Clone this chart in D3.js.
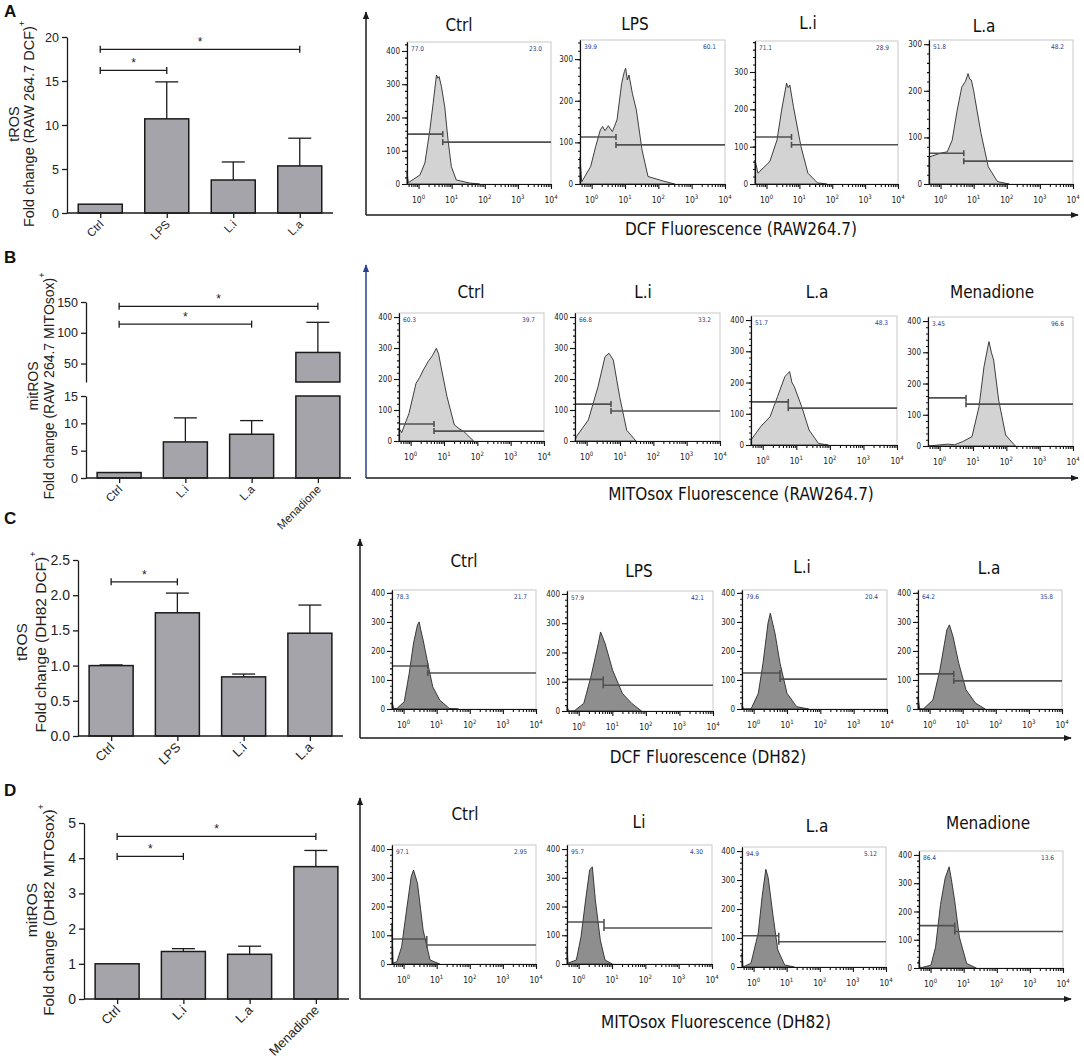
<!DOCTYPE html>
<html>
<head>
<meta charset="utf-8">
<script src="https://cdn.jsdelivr.net/npm/d3@7"></script>
<style>body{margin:0;background:#fff}</style>
</head>
<body>
<script>
// ---------- bar chart values ----------
const catsA = ["Ctrl", "LPS", "L.i", "L.a"];
const meanA = [1.0, 10.7, 3.75, 5.35];
const errA  = [1.0, 14.9, 5.8, 8.5];
const sigA  = [[0, 1, 16.2], [0, 3, 18.6]];

const catsB = ["Ctrl", "L.i", "L.a", "Menadione"];
const meanB = [1.0, 6.6, 8.0, 68];
const errB  = [1.0, 11.0, 10.5, 117];
const sigB  = [[0, 2, 114], [0, 3, 143]];

const catsC = ["Ctrl", "LPS", "L.i", "L.a"];
const meanC = [1.0, 1.75, 0.84, 1.46];
const errC  = [1.01, 2.03, 0.88, 1.86];
const sigC  = [[0, 1, 2.19]];

const catsD = ["Ctrl", "L.i", "L.a", "Menadione"];
const meanD = [1.0, 1.35, 1.27, 3.76];
const errD  = [1.0, 1.43, 1.5, 4.22];
const sigD  = [[0, 1, 4.05], [0, 3, 4.62]];

// ---------- histogram values: [log10 fluorescence, count] ----------
const hA_ctrl = [[-0.35,0],[-0.35,37],[-0.31,4],[0.04,27],[0.19,63],[0.34,162],[0.44,243],[0.54,328],[0.58,318],[0.62,323],[0.69,293],[0.79,232],[0.89,132],[0.99,52],[1.14,12],[1.54,3],[1.84,0]];
const hA_lps  = [[-0.35,0],[-0.35,65],[-0.3,5],[-0.03,42],[0.12,90],[0.26,130],[0.33,138],[0.4,128],[0.5,140],[0.62,126],[0.76,154],[0.9,242],[0.98,270],[1.02,278],[1.07,250],[1.12,262],[1.22,218],[1.34,178],[1.51,82],[1.69,18],[2.2,6],[2.49,0]];
const hA_li   = [[-0.35,0],[-0.35,64],[-0.26,29],[0.1,60],[0.32,118],[0.46,198],[0.61,270],[0.66,258],[0.71,265],[0.82,207],[1.05,100],[1.26,29],[1.55,3],[1.83,0]];
const hA_la   = [[-0.35,0],[-0.35,58],[-0.09,64],[0.05,67],[0.2,69],[0.35,94],[0.5,158],[0.64,208],[0.75,220],[0.83,237],[0.88,225],[0.93,223],[1.0,200],[1.03,187],[1.22,109],[1.44,37],[1.72,5],[2.07,0]];

const hB_ctrl = [[-0.35,0],[-0.35,41],[-0.27,27],[-0.05,89],[0.16,186],[0.27,205],[0.38,229],[0.52,256],[0.65,275],[0.77,299],[0.84,280],[0.91,240],[1.09,143],[1.31,52],[1.45,40],[1.6,30],[1.89,0]];
const hB_li   = [[-0.35,0],[-0.31,14],[0.05,68],[0.34,175],[0.55,272],[0.67,283],[0.72,275],[0.8,261],[0.99,143],[1.2,35],[1.48,0]];
const hB_la   = [[-0.35,0],[-0.35,16],[-0.06,59],[0.22,91],[0.44,155],[0.66,219],[0.74,228],[0.8,235],[0.87,200],[0.94,187],[1.16,123],[1.38,48],[1.66,5],[1.95,0]];
const hB_men  = [[-0.35,0],[0.25,6],[0.45,4],[0.69,14],[0.97,30],[1.18,126],[1.33,254],[1.45,320],[1.48,334],[1.55,300],[1.62,275],[1.77,147],[1.98,35],[2.27,0]];

const hC_ctrl = [[-0.35,0],[-0.35,25],[-0.3,2],[-0.2,2],[0.02,25],[0.17,123],[0.3,227],[0.42,290],[0.47,300],[0.52,272],[0.59,238],[0.73,158],[0.88,77],[1.09,31],[1.38,2],[1.66,0]];
const hC_lps  = [[-0.35,0],[-0.35,15],[-0.3,0],[-0.14,0],[0.15,26],[0.36,116],[0.58,229],[0.65,270],[0.72,250],[0.79,229],[1.01,139],[1.3,60],[1.58,26],[1.87,0]];
const hC_li   = [[-0.35,0],[-0.35,14],[-0.3,0],[-0.08,0],[0.14,54],[0.28,158],[0.43,296],[0.5,330],[0.56,300],[0.64,261],[0.79,158],[1.0,54],[1.29,8],[1.65,0]];
const hC_la   = [[-0.35,0],[-0.35,42],[-0.3,0],[-0.19,0],[0.1,31],[0.31,134],[0.52,272],[0.6,290],[0.71,249],[0.88,158],[1.1,66],[1.39,20],[1.68,0]];

const hD_ctrl = [[-0.35,0],[-0.35,142],[-0.32,3],[-0.2,8],[-0.06,60],[0.09,188],[0.23,304],[0.3,327],[0.42,281],[0.59,118],[0.8,14],[1.09,0]];
const hD_li   = [[-0.35,0],[-0.35,60],[-0.32,3],[-0.07,14],[0.07,95],[0.22,234],[0.33,327],[0.41,338],[0.5,223],[0.65,83],[0.79,14],[1.01,0]];
const hD_la   = [[-0.35,0],[-0.35,48],[-0.32,0],[-0.08,13],[0.14,117],[0.26,245],[0.37,337],[0.44,309],[0.59,175],[0.73,59],[0.94,7],[1.23,0]];
const hD_men  = [[-0.35,0],[-0.35,28],[-0.32,0],[0.01,10],[0.15,74],[0.3,225],[0.44,318],[0.56,358],[0.63,312],[0.73,236],[0.87,109],[1.09,16],[1.38,0]];

// titles, gate percentages, gate marker (log10) and gate heights (counts), count axis max
const titA = ["Ctrl", "LPS", "L.i", "L.a"];
const pctLA = ["77.0", "39.9", "71.1", "51.8"], pctRA = ["23.0", "60.1", "28.9", "48.2"];
const gxA = [0.73, 0.73, 0.76, 0.70], glA = [150, 113, 126, 66], grA = [126, 94, 105, 49];
const ymA = [427, 346, 383, 309];

const titB = ["Ctrl", "L.i", "L.a", "Menadione"];
const pctLB = ["60.3", "66.8", "51.7", "3.45"], pctRB = ["39.7", "33.2", "48.3", "96.6"];
const gxB = [0.70, 0.73, 0.76, 0.79], glB = [55, 119, 138, 154], grB = [32, 97, 118, 134];
const ymB = [413, 413, 413, 413];

const titC = ["Ctrl", "LPS", "L.i", "L.a"];
const pctLC = ["78.3", "57.9", "79.6", "64.2"], pctRC = ["21.7", "42.1", "20.4", "35.8"];
const gxC = [0.73, 0.73, 0.79, 0.73], glC = [148, 108, 124, 121], grC = [124, 88, 103, 97];
const ymC = [410, 410, 410, 410];

const titD = ["Ctrl", "Li", "L.a", "Menadione"];
const pctLD = ["97.1", "95.7", "94.9", "86.4"], pctRD = ["2.95", "4.30", "5.12", "13.6"];
const gxD = [0.70, 0.76, 0.76, 0.73], glD = [87, 146, 108, 150], grD = [66, 125, 87, 129];
const ymD = [414, 414, 414, 414];

const decadeTicks = [0, 1, 2, 3, 4];

// ---------- layout ----------
const boxA = [[407,42,551,184],[580,40,725,184],[755,41,898,184],[929,40,1073,184]];
const boxB = [[399,313,544,441],[575,313,720,441],[751,316,897,445],[928,317,1073,446]];
const boxC = [[392,590,536,709],[567,591,713,711],[742,590,887,709],[918,590,1062,709]];
const boxD = [[392,845,536,964],[567,845,712,964],[742,847,886,967],[919,851,1063,968]];
const titPosA = [[459,31],[635,30],[808,29],[984,32]];
const titPosB = [[471,298],[643,298],[817,298],[992,298]];
const titPosC = [[464,567],[639,577],[802,573],[989,574]];
const titPosD = [[465,820],[639,828],[817,832],[988,829]];

const W = 1084, H = 1062;
const INK = "#1b1b1b", BAR = "#a5a4aa";
const SANS = "'Liberation Sans', Arial, sans-serif";
const NARROW = "'Liberation Sans Narrow', 'Arial Narrow', 'DejaVu Sans Condensed', sans-serif";

const svg = d3.select("body").append("svg")
    .attr("width", W).attr("height", H)
    .attr("xmlns", "http://www.w3.org/2000/svg");
svg.append("rect").attr("width", W).attr("height", H).attr("fill", "#fff");

const defs = svg.append("defs");
[["arrK", INK], ["arrB", "#27408f"]].forEach(([id, c]) => {
  defs.append("marker").attr("id", id).attr("viewBox", "0 0 10 10")
    .attr("refX", 9).attr("refY", 5).attr("markerWidth", 8).attr("markerHeight", 8)
    .attr("markerUnits", "userSpaceOnUse").attr("orient", "auto")
    .append("path").attr("d", "M0,1L10,5L0,9Z").attr("fill", c);
});

function styleAxis(sel, fs, font) {
  sel.selectAll("path,line").attr("stroke", INK).attr("stroke-width", 1.3);
  sel.selectAll("text").attr("font-family", font).attr("font-size", fs).attr("fill", "#222");
}

// ---------- bar panels ----------
function barPanel(o) {
  const g = svg.append("g");
  const x = d3.scalePoint().domain(o.cats).range([o.x0, o.x1]).padding(0.5);
  const bw = 44;
  const y = d3.scaleLinear().domain(o.yDom).range(o.yRng);
  const yh = o.hiDom ? d3.scaleLinear().domain(o.hiDom).range(o.hiRng) : null;
  const lowMax = o.yDom[1];
  const base = y(0);

  const ax = g.append("g").attr("transform", `translate(${o.x0},0)`)
    .call(d3.axisLeft(y).tickValues(o.yTicks).tickSize(5).tickSizeOuter(0).tickFormat(o.fmt));
  styleAxis(ax, o.tickFs, SANS);
  if (yh) {
    const ax2 = g.append("g").attr("transform", `translate(${o.x0},0)`)
      .call(d3.axisLeft(yh).tickValues(o.hiTicks).tickSize(5).tickSizeOuter(0).tickFormat(o.fmt));
    styleAxis(ax2, o.tickFs, SANS);
  }

  // bars (split across a broken axis when needed)
  o.means.forEach((v, i) => {
    const cx = x(o.cats[i]);
    const segs = [];
    if (yh && v > lowMax) {
      segs.push([y(lowMax), base]);
      segs.push([yh(v), yh(o.hiDom[0])]);
    } else segs.push([y(v), base]);
    segs.forEach(([t, b]) => g.append("rect")
      .attr("x", cx - bw / 2).attr("y", t).attr("width", bw).attr("height", b - t)
      .attr("fill", BAR).attr("stroke", INK).attr("stroke-width", 1.5));
    const e = o.errs[i];
    if (e > v) {
      const sy = yh && v > lowMax ? yh : y;
      g.append("line").attr("x1", cx).attr("x2", cx).attr("y1", sy(v)).attr("y2", sy(e))
        .attr("stroke", INK).attr("stroke-width", 1.3);
      g.append("line").attr("x1", cx - 11.5).attr("x2", cx + 11.5).attr("y1", sy(e)).attr("y2", sy(e))
        .attr("stroke", INK).attr("stroke-width", 1.3);
    }
  });

  // x axis + rotated labels
  const xa = g.append("g").attr("transform", `translate(0,${base})`)
    .call(d3.axisBottom(x).tickSize(5).tickSizeOuter(0).tickFormat(() => ""));
  xa.select(".domain").attr("d", `M${o.x0},0H${o.x1}`);
  styleAxis(xa, 11, SANS);
  g.selectAll("text.cat").data(o.cats).join("text")
    .attr("transform", d => `translate(${x(d) + 4},${base + 12}) rotate(-45)`)
    .attr("text-anchor", "end").attr("font-family", SANS).attr("font-size", o.catFs).attr("fill", "#222")
    .text(d => d);

  // significance brackets
  const sy = yh || y;
  o.sig.forEach(([a, b, v]) => {
    const xa1 = x(o.cats[a]), xb = x(o.cats[b]), yy = sy(v);
    const p = g.append("g").attr("stroke", INK).attr("stroke-width", 1.3);
    p.append("line").attr("x1", xa1).attr("x2", xb).attr("y1", yy).attr("y2", yy);
    p.append("line").attr("x1", xa1).attr("x2", xa1).attr("y1", yy - 3.5).attr("y2", yy + 3.5);
    p.append("line").attr("x1", xb).attr("x2", xb).attr("y1", yy - 3.5).attr("y2", yy + 3.5);
    g.append("text").attr("x", (xa1 + xb) / 2).attr("y", yy - 3).attr("text-anchor", "middle")
      .attr("font-family", SANS).attr("font-size", 12).attr("fill", "#222").text("*");
  });

  // y labels
  const cy = o.labelY;
  g.append("text").attr("transform", `translate(${o.lx1},${cy}) rotate(-90)`)
    .attr("text-anchor", "middle").attr("dominant-baseline", "central")
    .attr("font-family", SANS).attr("font-size", o.labFs).attr("fill", "#222").text(o.l1);
  const t2 = g.append("text").attr("transform", `translate(${o.lx2},${cy}) rotate(-90)`)
    .attr("text-anchor", "middle").attr("dominant-baseline", "central")
    .attr("font-family", SANS).attr("font-size", o.labFs).attr("fill", "#222");
  t2.append("tspan").text(o.l2);
  t2.append("tspan").attr("font-size", 9).attr("dy", -7).text("+");

  g.append("text").attr("x", 4).attr("y", o.letterY).attr("font-family", SANS)
    .attr("font-weight", "bold").attr("font-size", 17).attr("fill", "#111").text(o.letter);
}

const f0 = d3.format("d"), f1 = d3.format(".1f");
barPanel({ cats: catsA, means: meanA, errs: errA, sig: sigA, x0: 67, x1: 333,
  yDom: [0, 20], yRng: [213, 37], yTicks: [0, 5, 10, 15, 20], fmt: f0, tickFs: 12.5, catFs: 11.5, labFs: 14.5,
  l1: "tROS", l2: "Fold change (RAW 264.7 DCF)", lx1: 14, lx2: 29, labelY: 124, letter: "A", letterY: 17 });
barPanel({ cats: catsB, means: meanB, errs: errB, sig: sigB, x0: 86, x1: 351,
  yDom: [0, 15], yRng: [478, 396], yTicks: [0, 5, 10, 15], fmt: f0, tickFs: 12.5, catFs: 11.5, labFs: 14,
  hiDom: [20, 150], hiRng: [382, 302], hiTicks: [50, 100, 150],
  l1: "mitROS", l2: "Fold change (RAW 264.7 MITOsox)", lx1: 33, lx2: 49, labelY: 386, letter: "B", letterY: 263 });
barPanel({ cats: catsC, means: meanC, errs: errC, sig: sigC, x0: 78, x1: 343,
  yDom: [0, 2.5], yRng: [736, 560], yTicks: [0, 0.5, 1, 1.5, 2, 2.5], fmt: f1, tickFs: 14, catFs: 13, labFs: 15.5,
  l1: "tROS", l2: "Fold change (DH82 DCF)", lx1: 21, lx2: 40, labelY: 642, letter: "C", letterY: 524 });
barPanel({ cats: catsD, means: meanD, errs: errD, sig: sigD, x0: 84, x1: 349,
  yDom: [0, 5], yRng: [999, 823], yTicks: [0, 1, 2, 3, 4, 5], fmt: f0, tickFs: 14, catFs: 13, labFs: 15.5,
  l1: "mitROS", l2: "Fold change (DH82 MITOsox)", lx1: 31, lx2: 48, labelY: 910, letter: "D", letterY: 796 });

// ---------- histogram panels ----------
function hist(b, pts, yMax, gx, gl, gr, pl, pr, fill) {
  const [L, T, R, B] = b;
  const x = d3.scaleLog().domain([Math.pow(10, -0.35), 1e4]).range([L, R]);
  const y = d3.scaleLinear().domain([0, yMax]).range([B, T]);
  const g = svg.append("g");
  g.append("rect").attr("x", L).attr("y", T).attr("width", R - L).attr("height", B - T)
    .attr("fill", "#fff").attr("stroke", "#c8c8c8").attr("stroke-width", 1);
  g.append("path").datum(pts)
    .attr("d", d3.area().x(d => x(Math.pow(10, d[0]))).y0(B).y1(d => y(d[1])))
    .attr("fill", fill).attr("stroke", "#2a2a2a").attr("stroke-width", 0.9).attr("stroke-linejoin", "round");

  const gp = x(Math.pow(10, gx));
  const gt = g.append("g").attr("stroke", "#505050").attr("stroke-width", 1.6);
  gt.append("line").attr("x1", L).attr("x2", gp).attr("y1", y(gl)).attr("y2", y(gl));
  gt.append("line").attr("x1", gp).attr("x2", gp).attr("y1", y(gl) - 3).attr("y2", y(gl) + 3);
  gt.append("line").attr("x1", gp).attr("x2", R).attr("y1", y(gr)).attr("y2", y(gr));
  gt.append("line").attr("x1", gp).attr("x2", gp).attr("y1", y(gr) - 3).attr("y2", y(gr) + 3);

  // count axis
  const ya = g.append("g").attr("transform", `translate(${L},0)`);
  ya.call(d3.axisLeft(y).tickValues(d3.range(0, yMax, 20)).tickSize(2).tickSizeOuter(0).tickFormat(() => ""));
  ya.append("g").call(d3.axisLeft(y).tickValues(d3.range(0, yMax + 1, 100)).tickSize(5).tickSizeOuter(0).tickPadding(2));
  ya.selectAll("path,line").attr("stroke", "#111").attr("stroke-width", 1.1);
  ya.selectAll("text").attr("font-family", NARROW).attr("font-size", 8).attr("fill", "#222");

  // log fluorescence axis
  const majors = decadeTicks.map(k => Math.pow(10, k));
  const minors = [];
  [-1, 0, 1, 2, 3].forEach(k => d3.range(2, 10).forEach(m => {
    const v = m * Math.pow(10, k);
    if (v >= x.domain()[0] && v <= 1e4) minors.push(v);
  }));
  const xa = g.append("g").attr("transform", `translate(0,${B})`);
  xa.call(d3.axisBottom(x).tickValues(minors).tickSize(3).tickSizeOuter(0).tickFormat(() => ""));
  xa.append("g").call(d3.axisBottom(x).tickValues(majors).tickSize(5).tickSizeOuter(0).tickFormat(() => ""));
  xa.selectAll("path,line").attr("stroke", "#111").attr("stroke-width", 1.1);
  decadeTicks.forEach(k => {
    const t = g.append("text").attr("x", x(Math.pow(10, k))).attr("y", B + 19)
      .attr("text-anchor", "middle").attr("font-family", NARROW).attr("font-size", 8.5).attr("fill", "#222");
    t.append("tspan").text("10");
    t.append("tspan").attr("font-size", 6).attr("dy", -4).text(k);
  });

  g.append("text").attr("x", L + 4).attr("y", T + 9).attr("font-family", NARROW)
    .attr("font-size", 6.5).attr("fill", "#27408f").text(pl);
  g.append("text").attr("x", R - 9).attr("y", T + 9).attr("text-anchor", "end").attr("font-family", NARROW)
    .attr("font-size", 6.5).attr("fill", "#27408f").text(pr);
}

function histRow(boxes, curves, ym, gx, gl, gr, pl, pr, tits, tpos, fill) {
  boxes.forEach((b, i) => hist(b, curves[i], ym[i], gx[i], gl[i], gr[i], pl[i], pr[i], fill));
  tits.forEach((t, i) => svg.append("text").attr("x", tpos[i][0]).attr("y", tpos[i][1])
    .attr("text-anchor", "middle").attr("font-family", NARROW).attr("font-size", 17)
    .attr("fill", "#111").text(t));
}

histRow(boxA, [hA_ctrl, hA_lps, hA_li, hA_la], ymA, gxA, glA, grA, pctLA, pctRA, titA, titPosA, "#d3d3d3");
histRow(boxB, [hB_ctrl, hB_li, hB_la, hB_men], ymB, gxB, glB, grB, pctLB, pctRB, titB, titPosB, "#d3d3d3");
histRow(boxC, [hC_ctrl, hC_lps, hC_li, hC_la], ymC, gxC, glC, grC, pctLC, pctRC, titC, titPosC, "#8e8e8e");
histRow(boxD, [hD_ctrl, hD_li, hD_la, hD_men], ymD, gxD, glD, grD, pctLD, pctRD, titD, titPosD, "#8e8e8e");

// ---------- frame arrows and fluorescence titles ----------
function frame(x0, top, base, right, vcol, marker, title, tx, ty) {
  svg.append("line").attr("x1", x0).attr("y1", base).attr("x2", x0).attr("y2", top)
    .attr("stroke", vcol).attr("stroke-width", 1.5).attr("marker-end", `url(#${marker})`);
  svg.append("line").attr("x1", x0).attr("y1", base).attr("x2", right).attr("y2", base)
    .attr("stroke", INK).attr("stroke-width", 1.5).attr("marker-end", "url(#arrK)");
  svg.append("text").attr("x", tx).attr("y", ty).attr("text-anchor", "middle")
    .attr("font-family", NARROW).attr("font-size", 17).attr("fill", "#111").text(title);
}
frame(366, 12, 215, 1078, INK, "arrK", "DCF Fluorescence (RAW264.7)", 741, 235);
frame(366, 265, 478, 1078, "#27408f", "arrB", "MITOsox Fluorescence (RAW264.7)", 741, 500);
frame(360, 539, 738, 1071, INK, "arrK", "DCF Fluorescence (DH82)", 708, 763);
frame(360, 798, 999, 1071, INK, "arrK", "MITOsox Fluorescence (DH82)", 716, 1028);
</script>
</body>
</html>
